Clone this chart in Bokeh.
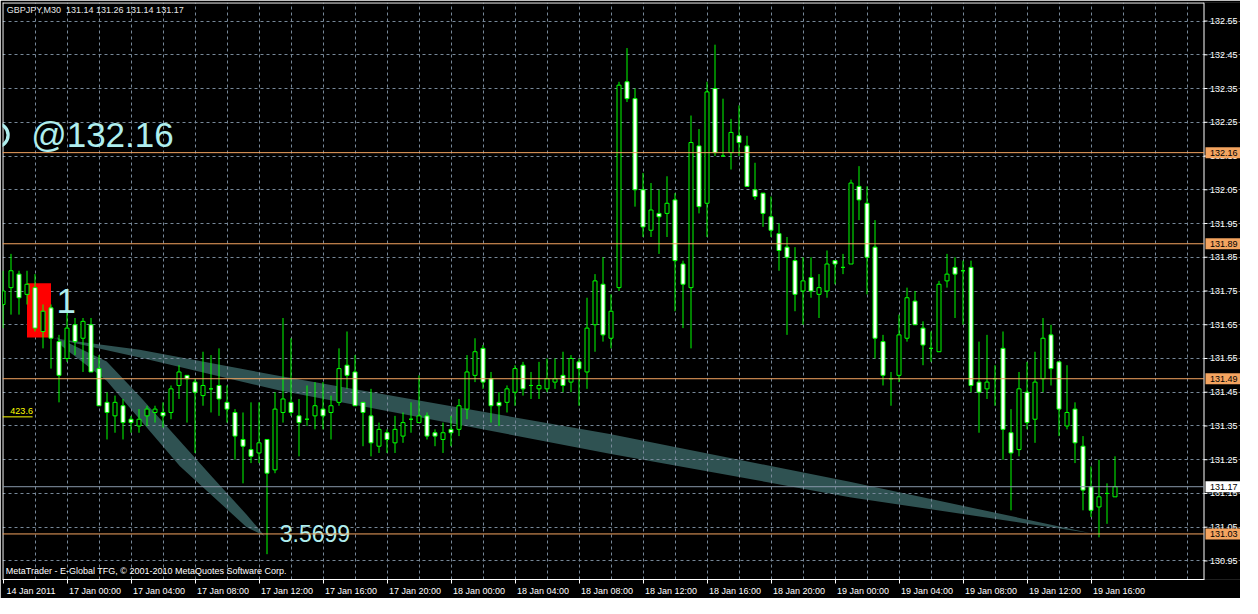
from bokeh.plotting import figure
from bokeh.models import FixedTicker, Range1d
from bokeh.embed import file_html
from bokeh.resources import INLINE
from bokeh.core.properties import value

# ---------------- data (GBPJPY, M30) ----------------
opens = [131.71, 131.76, 131.80, 131.74, 131.76, 131.63, 131.70, 131.60, 131.55, 131.65,
         131.61, 131.65, 131.52, 131.42, 131.38, 131.41, 131.37, 131.35, 131.38, 131.39,
         131.39, 131.39, 131.47, 131.50, 131.48, 131.44, 131.46, 131.47, 131.42, 131.39,
         131.31, 131.28, 131.27, 131.31, 131.22, 131.39, 131.42, 131.38, 131.37, 131.38,
         131.40, 131.39, 131.42, 131.53, 131.51, 131.42, 131.38, 131.29, 131.33, 131.30,
         131.32, 131.37, 131.36, 131.38, 131.33, 131.31, 131.34, 131.34, 131.40, 131.50,
         131.58, 131.49, 131.42, 131.42, 131.45, 131.53, 131.47, 131.46, 131.46, 131.48,
         131.50, 131.48, 131.54, 131.51, 131.65, 131.77, 131.61, 131.76, 132.37, 132.32,
         132.05, 131.93, 131.98, 131.98, 132.02, 131.83, 131.76, 132.18, 132.01, 132.35,
         132.15, 132.16, 132.21, 132.18, 132.05, 132.04, 131.97, 131.92, 131.88, 131.84,
         131.75, 131.79, 131.74, 131.75, 131.84, 131.82, 131.83, 132.06, 132.01, 131.88,
         131.60, 131.49, 131.50, 131.61, 131.72, 131.64, 131.58, 131.57, 131.78, 131.82,
         131.81, 131.82, 131.48, 131.46, 131.49, 131.58, 131.33, 131.28, 131.45, 131.37,
         131.49, 131.62, 131.54, 131.35, 131.40, 131.29, 131.17, 131.11, 131.15, 131.14]
highs = [131.81, 131.86, 131.81, 131.81, 131.80, 131.71, 131.71, 131.62, 131.69, 131.67,
         131.67, 131.67, 131.56, 131.45, 131.44, 131.43, 131.38, 131.40, 131.41, 131.41,
         131.42, 131.47, 131.53, 131.50, 131.49, 131.57, 131.56, 131.58, 131.47, 131.40,
         131.39, 131.42, 131.42, 131.31, 131.45, 131.67, 131.61, 131.43, 131.47, 131.48,
         131.48, 131.44, 131.58, 131.63, 131.56, 131.42, 131.46, 131.36, 131.34, 131.38,
         131.39, 131.42, 131.50, 131.39, 131.34, 131.36, 131.38, 131.43, 131.56, 131.61,
         131.59, 131.51, 131.45, 131.47, 131.53, 131.54, 131.51, 131.54, 131.55, 131.55,
         131.57, 131.56, 131.55, 131.73, 131.80, 131.85, 131.74, 132.37, 132.47, 132.35,
         132.10, 132.07, 132.05, 132.09, 132.04, 131.84, 132.27, 132.23, 132.37, 132.48,
         132.32, 132.26, 132.30, 132.21, 132.13, 132.04, 132.03, 131.95, 131.91, 131.88,
         131.85, 131.85, 131.80, 131.87, 131.84, 131.86, 132.08, 132.12, 132.06, 131.96,
         131.62, 131.51, 131.68, 131.76, 131.75, 131.66, 131.63, 131.78, 131.86, 131.85,
         131.84, 131.84, 131.60, 131.62, 131.53, 131.63, 131.40, 131.51, 131.54, 131.57,
         131.67, 131.65, 131.54, 131.53, 131.42, 131.32, 131.23, 131.25, 131.18, 131.26]
lows = [131.64, 131.68, 131.68, 131.71, 131.63, 131.58, 131.52, 131.42, 131.54, 131.56,
        131.51, 131.51, 131.41, 131.31, 131.33, 131.31, 131.33, 131.33, 131.35, 131.36,
        131.345, 131.37, 131.43, 131.36, 131.27, 131.41, 131.39, 131.38, 131.36, 131.25,
        131.18, 131.24, 131.24, 130.97, 131.21, 131.36, 131.38, 131.26, 131.35, 131.34,
        131.34, 131.31, 131.41, 131.46, 131.41, 131.29, 131.26, 131.27, 131.27, 131.27,
        131.30, 131.33, 131.36, 131.31, 131.29, 131.27, 131.29, 131.32, 131.37, 131.48,
        131.46, 131.36, 131.35, 131.39, 131.41, 131.44, 131.43, 131.43, 131.45, 131.46,
        131.45, 131.45, 131.41, 131.46, 131.57, 131.60, 131.58, 131.75, 132.31, 132.00,
        131.91, 131.91, 131.86, 131.91, 131.69, 131.64, 131.58, 131.98, 131.91, 132.15,
        132.15, 132.11, 132.15, 132.06, 132.02, 131.94, 131.91, 131.81, 131.62, 131.69,
        131.65, 131.73, 131.67, 131.73, 131.77, 131.80, 131.83, 131.96, 131.74, 131.55,
        131.47, 131.41, 131.48, 131.60, 131.65, 131.53, 131.54, 131.57, 131.76, 131.67,
        131.65, 131.45, 131.33, 131.43, 131.41, 131.25, 131.10, 131.26, 131.34, 131.30,
        131.45, 131.47, 131.32, 131.34, 131.24, 131.10, 131.08, 131.02, 131.06, 131.14]
closes = [131.75, 131.81, 131.73, 131.77, 131.64, 131.69, 131.61, 131.50, 131.64, 131.60,
          131.66, 131.51, 131.41, 131.39, 131.42, 131.36, 131.36, 131.37, 131.40, 131.40,
          131.38, 131.46, 131.51, 131.49, 131.45, 131.47, 131.46, 131.43, 131.40, 131.32,
          131.29, 131.26, 131.30, 131.21, 131.40, 131.43, 131.39, 131.36, 131.37, 131.41,
          131.38, 131.41, 131.52, 131.50, 131.41, 131.39, 131.30, 131.34, 131.31, 131.34,
          131.36, 131.37, 131.38, 131.32, 131.32, 131.33, 131.33, 131.41, 131.51, 131.57,
          131.48, 131.41, 131.41, 131.46, 131.52, 131.46, 131.47, 131.47, 131.49, 131.49,
          131.47, 131.55, 131.52, 131.64, 131.78, 131.62, 131.69, 132.36, 132.32, 132.05,
          131.94, 131.99, 131.97, 132.01, 131.84, 131.77, 132.19, 132.00, 132.34, 132.16,
          132.15, 132.22, 132.19, 132.06, 132.03, 131.98, 131.93, 131.87, 131.85, 131.74,
          131.78, 131.75, 131.76, 131.83, 131.83, 131.82, 132.07, 132.02, 131.85, 131.61,
          131.50, 131.49, 131.62, 131.73, 131.65, 131.59, 131.58, 131.77, 131.80, 131.80,
          131.81, 131.47, 131.45, 131.48, 131.49, 131.34, 131.27, 131.46, 131.36, 131.48,
          131.61, 131.52, 131.40, 131.39, 131.30, 131.16, 131.10, 131.14, 131.15, 131.17]

time_labels = ["14 Jan 2011", "17 Jan 00:00", "17 Jan 04:00", "17 Jan 08:00", "17 Jan 12:00",
               "17 Jan 16:00", "17 Jan 20:00", "18 Jan 00:00", "18 Jan 04:00", "18 Jan 08:00",
               "18 Jan 12:00", "18 Jan 16:00", "18 Jan 20:00", "19 Jan 00:00", "19 Jan 04:00",
               "19 Jan 08:00", "19 Jan 12:00", "19 Jan 16:00"]
time_label_bars = [0, 8, 16, 24, 32, 40, 48, 56, 64, 72, 80, 88, 96, 104, 112, 120, 128, 136]

price_ticks = [130.95, 131.05, 131.15, 131.25, 131.35, 131.45, 131.55, 131.65, 131.75,
               131.85, 131.95, 132.05, 132.15, 132.25, 132.35, 132.45, 132.55]

level_prices = [132.16, 131.89, 131.49, 131.03]
bid_price = 131.17
symbol_header = "GBPJPY,M30\u00a0 131.14 131.26 131.14 131.17"
footer_text = "MetaTrader - E-Global TFG, \u00a9 2001-2010 MetaQuotes Software Corp."

# drawn objects (bar index, price)
band_long_x = [6.21, 17.09, 34.59, 75.84, 105.84, 135.84, 105.84, 75.84, 34.59, 17.09]
band_long_y = [131.610, 131.576, 131.498, 131.326, 131.185, 131.033, 131.139, 131.268, 131.455, 131.553]
band_steep_x = [6.71, 12.96, 17.09, 26.21, 30.46, 32.71, 30.46, 22.09, 12.96, 7.34]
band_steep_y = [131.613, 131.541, 131.438, 131.197, 131.087, 131.024, 131.050, 131.231, 131.484, 131.587]
box_bars = [3.0, 6.0]
box_prices = [131.612, 131.773]
fib_level_price = 131.377
fib_level_text = "423.6"
order_text = "@132.16"
order_glyph_bar = -0.6875        # round letter cut by the left edge of the chart
order_glyph_price = 132.212
count_text = "1"
ratio_text = "3.5699"

# ---------------- layout constants ----------------
BAR_PX = 8
FRAME_W, FRAME_H = 1238, 577
x0 = -0.0625
x1 = x0 + FRAME_W / BAR_PX
x_axis = x0 + 1201.5 / BAR_PX          # price-scale line position
y0, y1 = 130.895, 132.605
px_x = 1.0 / BAR_PX
px_y = (y1 - y0) / FRAME_H

GREEN = "#00FF00"
GRID = "#778899"
LEVEL = "#F4A460"
CYAN = "#AFEEEE"
FONT = "Liberation Sans"

p = figure(frame_width=FRAME_W, frame_height=FRAME_H,
           x_range=Range1d(x0, x1), y_range=Range1d(y0, y1),
           y_axis_location=None, output_backend="svg", toolbar_location=None,
           background_fill_color="black", border_fill_color="black",
           outline_line_color=None,
           min_border_left=2, min_border_top=2, min_border_right=0, min_border_bottom=18)

# time axis (labels start just right of their tick, as in MetaTrader)
offset = 3.5
p.xaxis.ticker = FixedTicker(ticks=[b + offset for b in time_label_bars], minor_ticks=time_label_bars)
p.xaxis.major_label_overrides = {b + offset: t for b, t in zip(time_label_bars, time_labels)}
p.xaxis.bounds = (x0, x_axis)
p.xaxis.axis_line_color = "white"
p.xaxis.major_tick_line_color = None
p.xaxis.major_tick_out = 3
p.xaxis.major_tick_in = 0
p.xaxis.minor_tick_line_color = "white"
p.xaxis.minor_tick_out = 4
p.xaxis.minor_tick_in = 0
p.xaxis.major_label_text_color = "white"
p.xaxis.major_label_text_font = FONT
p.xaxis.major_label_text_font_size = "9px"
p.xaxis.major_label_standoff = 2

# grid
p.xgrid.ticker = FixedTicker(ticks=[b for b in range(4, 150, 4)])
p.ygrid.ticker = FixedTicker(ticks=price_ticks)
for g in (p.xgrid, p.ygrid):
    g.grid_line_color = GRID
    g.grid_line_dash = "3 3"
    g.grid_line_width = 1

# drawn triangles (under grid)
p.patch(band_long_x, band_long_y, fill_color="#2F5252", line_color=None, level="image")
p.patch(band_steep_x, band_steep_y, fill_color="#2F5252", line_color=None, level="image")

# black price-scale strip (covers grid right of the scale line)
p.quad(left=[x_axis], right=[x1 + 1], bottom=[y0 - 1], top=[y1 + 1],
       fill_color="black", line_color=None, level="underlay")

# chart border (left, top) and price-scale line
p.segment(x0=[x0 + 0.5 * px_x, x0], y0=[y0, y1 - 0.5 * px_y], x1=[x0 + 0.5 * px_x, x_axis],
          y1=[y1, y1 - 0.5 * px_y], line_color="white", line_width=1)
p.segment(x0=[x_axis], y0=[y0], x1=[x_axis], y1=[y1], line_color="white", line_width=1)

# red marker box
p.quad(left=[box_bars[0]], right=[box_bars[1]], bottom=[box_prices[0]], top=[box_prices[1]],
       fill_color="#FF0000", line_color=None)

# candles
idx = list(range(len(opens)))
p.segment(x0=idx, y0=lows, x1=idx, y1=highs, line_color=GREEN, line_width=1)
tops = [max(o, c) for o, c in zip(opens, closes)]
bots = [min(o, c) for o, c in zip(opens, closes)]
fills = ["white" if c < o else "black" for o, c in zip(opens, closes)]
p.vbar(x=idx, width=0.5, top=tops, bottom=bots, fill_color=fills, line_color=GREEN, line_width=1)

# fib level marker
p.segment(x0=[x0], y0=[fib_level_price], x1=[3.7], y1=[fib_level_price], line_color="#FFFF00", line_width=1)
p.text(x=[0.92], y=[131.394], text=[fib_level_text], text_color="#FFFF00",
       text_font=value(FONT), text_font_size="9px", text_align="left", text_baseline="middle")

# big texts
p.ellipse(x=[order_glyph_bar], y=[order_glyph_price], width=21.2, height=22.6,
          width_units="screen", height_units="screen", fill_color=None,
          line_color=CYAN, line_width=3.3)
p.text(x=[21.34], y=[132.215], text=[order_text], text_color=CYAN, text_font=value(FONT),
       text_font_size="35px", text_align="right", text_baseline="middle")
p.text(x=[6.7], y=[131.720], text=[count_text], text_color=CYAN, text_font=value(FONT),
       text_font_size="35px", text_align="left", text_baseline="middle")
p.text(x=[34.59], y=[131.030], text=[ratio_text], text_color=CYAN, text_font=value(FONT),
       text_font_size="23px", text_align="left", text_baseline="middle")

# header / footer
p.text(x=[0.46], y=[132.582], text=[symbol_header], text_color="#E6E6E6", text_font=value(FONT),
       text_font_size="9px", text_align="left", text_baseline="middle")
p.text(x=[0.34], y=[130.921], text=[footer_text], text_color="white", text_font=value(FONT),
       text_font_size="9px", text_align="left", text_baseline="middle")

# price scale: ticks and labels
n = len(price_ticks)
p.segment(x0=[x_axis] * n, y0=price_ticks, x1=[x_axis + 3.5 * px_x] * n, y1=price_ticks,
          line_color="white", line_width=1)
p.text(x=[x_axis + 6 * px_x] * n, y=price_ticks, text=[f"{v:.2f}" for v in price_ticks],
       text_color="white", text_font=value(FONT), text_font_size="9px",
       text_align="left", text_baseline="middle")

# price levels and bid line with their price-scale boxes
nl = len(level_prices)
p.segment(x0=[x0] * nl, y0=level_prices, x1=[x_axis] * nl, y1=level_prices, line_color=LEVEL, line_width=1)
p.segment(x0=[x0], y0=[bid_price], x1=[x_axis], y1=[bid_price], line_color="#8899AA", line_width=1)
box_h = 5.5 * px_y
p.quad(left=[x_axis + 1.5 * px_x] * nl, right=[x1] * nl,
       bottom=[v - box_h for v in level_prices], top=[v + box_h for v in level_prices],
       fill_color=LEVEL, line_color=None)
p.quad(left=[x_axis + 1.5 * px_x], right=[x1], bottom=[bid_price - box_h], top=[bid_price + box_h],
       fill_color="white", line_color=None)
p.text(x=[x_axis + 6 * px_x] * (nl + 1), y=level_prices + [bid_price],
       text=[f"{v:.2f}" for v in level_prices + [bid_price]],
       text_color="black", text_font=value(FONT), text_font_size="9px",
       text_align="left", text_baseline="middle")

open("out.html", "w").write(file_html(p, INLINE))
